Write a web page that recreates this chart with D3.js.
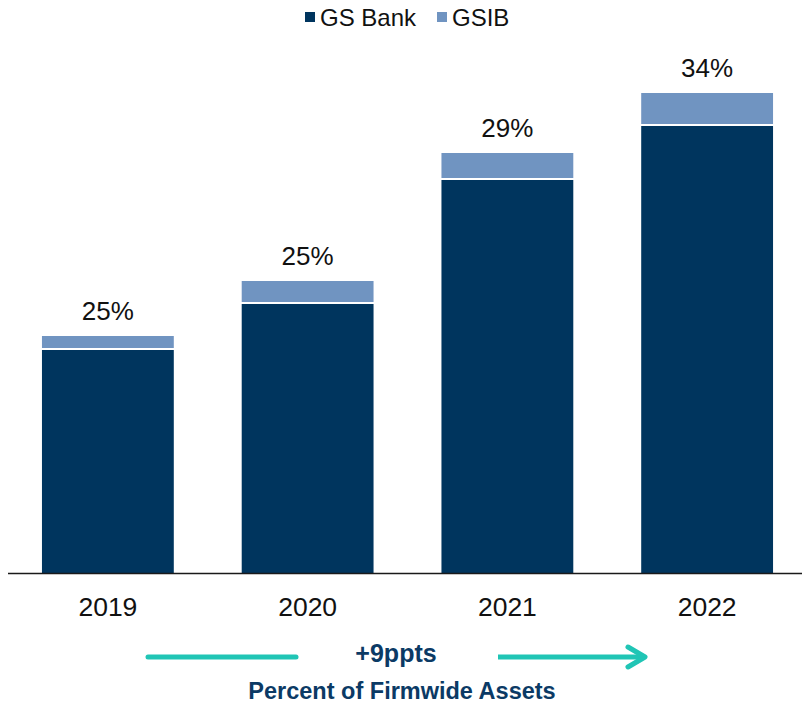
<!DOCTYPE html>
<html>
<head>
<meta charset="utf-8">
<script src="https://cdn.jsdelivr.net/npm/d3@7/dist/d3.min.js"></script>
<style>
  html, body { margin: 0; padding: 0; background: #fff; }
  svg { display: block; font-family: "Liberation Sans", Arial, sans-serif; }
</style>
</head>
<body>
<svg id="chart" width="802" height="703"></svg>
<script>
const years = ["2019", "2020", "2021", "2022"];
const gsBank = [223, 269, 393, 447];
const gsib = [14, 23, 27, 33];
const pctLabels = ["25%", "25%", "29%", "34%"];
const seriesNames = ["GS Bank", "GSIB"];
const colors = { "GS Bank": "#00355E", "GSIB": "#7094C1" };
const growthLabel = "+9ppts";
const subtitle = "Percent of Firmwide Assets";

const svg = d3.select("#chart");
const W = 802, H = 703;

const x = d3.scaleBand().domain(years).range([8, 807]).paddingInner(0.34).paddingOuter(0.17);
const y = d3.scaleLinear().domain([0, 500]).range([573, 73]);

const data = years.map((yr, i) => ({ year: yr, bank: gsBank[i], gsib: gsib[i], pct: pctLabels[i] }));

// GS Bank bars
svg.append("g").selectAll("rect").data(data).join("rect")
  .attr("x", d => x(d.year))
  .attr("width", x.bandwidth())
  .attr("y", d => y(d.bank))
  .attr("height", d => y(0) - y(d.bank))
  .attr("fill", colors["GS Bank"]);

// GSIB bars (stacked, small white gap)
svg.append("g").selectAll("rect").data(data).join("rect")
  .attr("x", d => x(d.year))
  .attr("width", x.bandwidth())
  .attr("y", d => y(d.bank + d.gsib))
  .attr("height", d => Math.max(0, y(d.bank) - y(d.bank + d.gsib) - 2))
  .attr("fill", colors["GSIB"]);

// percent labels
svg.append("g").selectAll("text").data(data).join("text")
  .attr("x", d => x(d.year) + x.bandwidth() / 2)
  .attr("y", d => y(d.bank + d.gsib) - 16)
  .attr("text-anchor", "middle")
  .attr("font-size", 26)
  .attr("fill", "#111")
  .text(d => d.pct);

// x axis
const xAxis = d3.axisBottom(x).tickSize(0).tickPadding(0);
const gx = svg.append("g").attr("transform", `translate(0,${y(0)})`).call(xAxis);
gx.select(".domain").remove();
gx.selectAll("text")
  .attr("font-size", 26.5)
  .attr("fill", "#111")
  .attr("font-family", "Liberation Sans, Arial, sans-serif")
  .attr("dy", 0)
  .attr("y", 43);
svg.append("line")
  .attr("x1", 8).attr("x2", W)
  .attr("y1", y(0) + 0.5).attr("y2", y(0) + 0.5)
  .attr("stroke", "#1a1a1a").attr("stroke-width", 1.6);

// legend
const legendPos = [305, 437];
const lg = svg.append("g");
seriesNames.forEach((s, i) => {
  lg.append("rect").attr("x", legendPos[i]).attr("y", 12).attr("width", 10).attr("height", 10).attr("fill", colors[s]);
  lg.append("text").attr("x", legendPos[i] + 15).attr("y", 26)
    .attr("font-size", 24).attr("fill", "#111").text(s);
});

// growth arrow annotation
const teal = "#20C5B5";
const navyText = "#0B3A65";
const arrowY = 657;
const g = svg.append("g");
g.append("line").attr("x1", 148).attr("x2", 296).attr("y1", arrowY).attr("y2", arrowY)
  .attr("stroke", teal).attr("stroke-width", 5).attr("stroke-linecap", "round");
g.append("line").attr("x1", 498).attr("x2", 644).attr("y1", arrowY).attr("y2", arrowY)
  .attr("stroke", teal).attr("stroke-width", 5);
g.append("path").attr("d", `M628,${arrowY - 10} L645,${arrowY} L628,${arrowY + 10}`)
  .attr("fill", "none").attr("stroke", teal).attr("stroke-width", 5)
  .attr("stroke-linecap", "round").attr("stroke-linejoin", "round");
g.append("text").attr("x", 396).attr("y", 662).attr("text-anchor", "middle")
  .attr("font-size", 25).attr("font-weight", "bold").attr("fill", navyText).text(growthLabel);
g.append("text").attr("x", 402).attr("y", 699).attr("text-anchor", "middle")
  .attr("font-size", 23.5).attr("font-weight", "bold").attr("fill", navyText).text(subtitle);
</script>
</body>
</html>
